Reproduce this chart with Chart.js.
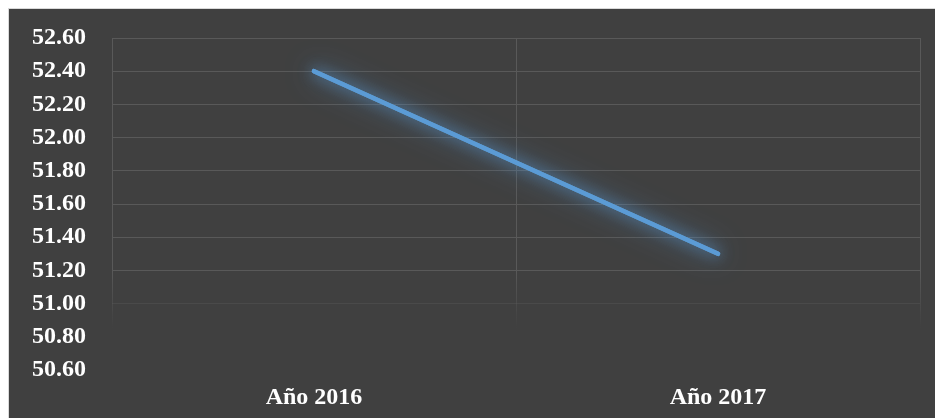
<!DOCTYPE html>
<html>
<head>
<meta charset="utf-8">
<script src="https://cdn.jsdelivr.net/npm/chart.js@4/dist/chart.umd.min.js"></script>
<style>
  html, body { margin: 0; padding: 0; background: #ffffff; }
  #frame {
    position: absolute; left: 8px; top: 8px;
    width: 927px; height: 410px;
    border-left: 1px solid #d9d9d9; border-top: 1px solid #d9d9d9;
    background: #404040;
  }
  #frame canvas { display: block; }
</style>
</head>
<body>
<div id="frame"><canvas id="lineChart" width="926" height="409"></canvas></div>
<script>
// Valores por año
const categorias = ['Año 2016', 'Año 2017'];
const valores = [52.40, 51.30];
const ejeMin = 50.60;
const ejeMax = 52.60;
const ejePaso = 0.20;

const fuente = { family: '"Liberation Serif", "Times New Roman", serif', size: 24, weight: 'bold' };

// Sombra difusa alrededor de la línea (se pinta dos veces para que se note más)
const brillo = {
    id: 'brillo',
    beforeDatasetDraw(chart, args) {
        const ctx = chart.ctx;
        ctx.save();
        ctx.shadowColor = 'rgba(91, 155, 213, 0.9)';
        ctx.shadowBlur = 28;
        args.meta.dataset.draw(ctx, chart.chartArea);
        ctx.shadowBlur = 14;
    },
    afterDatasetDraw(chart) {
        chart.ctx.restore();
    }
};

// Las líneas verticales se desvanecen hacia abajo
function colorVertical(context) {
    const chart = context.chart;
    const area = chart.chartArea;
    if (!area || !chart.scales.y) return 'rgba(89,89,89,1)';
    const y = chart.scales.y;
    const g = chart.ctx.createLinearGradient(0, area.top, 0, area.bottom);
    const alto = area.bottom - area.top;
    const p1 = Math.min(1, Math.max(0, (y.getPixelForValue(51.20) - area.top) / alto));
    const p2 = Math.min(1, Math.max(p1, (y.getPixelForValue(50.85) - area.top) / alto));
    g.addColorStop(0, 'rgba(89,89,89,1)');
    g.addColorStop(p1, 'rgba(89,89,89,1)');
    g.addColorStop(p2, 'rgba(89,89,89,0)');
    g.addColorStop(1, 'rgba(89,89,89,0)');
    return g;
}

const ctx = document.getElementById('lineChart').getContext('2d');
const lineChart = new Chart(ctx, {
    type: 'line',
    data: {
        labels: categorias,
        datasets: [{
            data: valores,
            borderColor: '#5b9bd5',
            borderWidth: 4.5,
            borderCapStyle: 'round',
            pointRadius: 0,
            tension: 0
        }]
    },
    options: {
        responsive: false,
        animation: false,
        layout: { padding: { left: 23, right: 15, top: 29, bottom: 0 } },
        plugins: {
            legend: { display: false },
            tooltip: { enabled: false }
        },
        scales: {
            x: {
                offset: true,
                afterFit(scale) { scale.height = 48; },
                grid: { color: colorVertical, lineWidth: 1, offset: true, drawTicks: false },
                border: { display: false },
                ticks: { color: '#ffffff', padding: 13, font: fuente, maxRotation: 0 }
            },
            y: {
                min: ejeMin,
                max: ejeMax,
                afterFit(scale) {
                    scale.width = 80;
                    scale.paddingTop = 0;
                    scale.paddingBottom = 0;
                },
                grid: {
                    drawTicks: false,
                    color(c) {
                        const v = c.tick ? c.tick.value : 0;
                        if (v > 51.1) return 'rgba(89,89,89,1)';
                        if (v > 50.9) return 'rgba(89,89,89,0.4)';
                        return 'rgba(89,89,89,0)';
                    }
                },
                border: { display: false },
                ticks: {
                    stepSize: ejePaso,
                    autoSkip: false,
                    color: '#ffffff',
                    padding: 26,
                    font: fuente,
                    callback: (v) => Number(v).toFixed(2)
                }
            }
        }
    },
    plugins: [brillo]
});
</script>
</body>
</html>
